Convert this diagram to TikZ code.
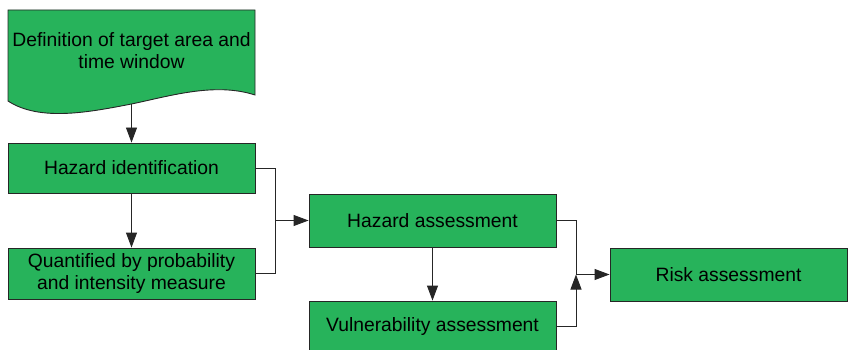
\documentclass[tikz,border=0pt]{standalone}
\usepackage{fontspec}
\setmainfont{Liberation Sans}
\usetikzlibrary{arrows.meta}
\definecolor{boxgreen}{RGB}{39,179,91}
\begin{document}
\begin{tikzpicture}[x=1pt,y=-1pt,
 txt/.style={inner sep=0pt, align=center, font=\fontsize{19.3}{22}\selectfont},
 box/.style={txt, draw=black!85, line width=0.9pt, fill=boxgreen},
 conn/.style={draw=black!85, line width=0.9pt},
 arr/.style={conn, -{Triangle[length=15pt,width=11pt]}}]
\useasboundingbox (0,0) rectangle (848,350);
% document shape
\fill[boxgreen, draw=black!85, line width=0.9pt] (8,10) -- (255,10) -- (255,95)
  .. controls (215,82) and (170,96) .. (131.5,104)
  .. controls (90,112) and (40,122) .. (8,101) -- cycle;
\node[txt] (doc) at (131.5,51) {Definition of target area and\\time window};
\coordinate (docb) at (131.5,104);
% boxes
\node[box, minimum width=247pt, minimum height=50pt] (hi) at (131.5,168) {Hazard identification};
\node[box, minimum width=247pt, minimum height=51pt] (q) at (131.5,273.5) {Quantified by probability\\and intensity measure};
\node[box, minimum width=247pt, minimum height=53pt] (ha) at (432.5,220.5) {Hazard assessment};
\node[box, minimum width=247pt, minimum height=51pt] (va) at (432.5,326.5) {Vulnerability assessment};
\node[box, minimum width=237pt, minimum height=53pt] (ra) at (728.5,274.5) {Risk assessment};
\coordinate (j1) at (275,220.5);
\coordinate (j2) at (576,274.5);
% connectors
\draw[arr] (docb) -- (hi.north);
\draw[arr] (hi.south) -- (q.north);
\draw[arr] (ha.south) -- (va.north);
\draw[conn] (hi.east) -- (hi.east -| j1) -- (q.east -| j1) -- (q.east);
\draw[arr] (j1) -- (ha.west);
\draw[conn] (ha.east) -- (ha.east -| j2) -- (j2);
\draw[arr] (va.east) -- (va.east -| j2) -- (j2);
\draw[arr] (j2) -- (ra.west);
\end{tikzpicture}
\end{document}
